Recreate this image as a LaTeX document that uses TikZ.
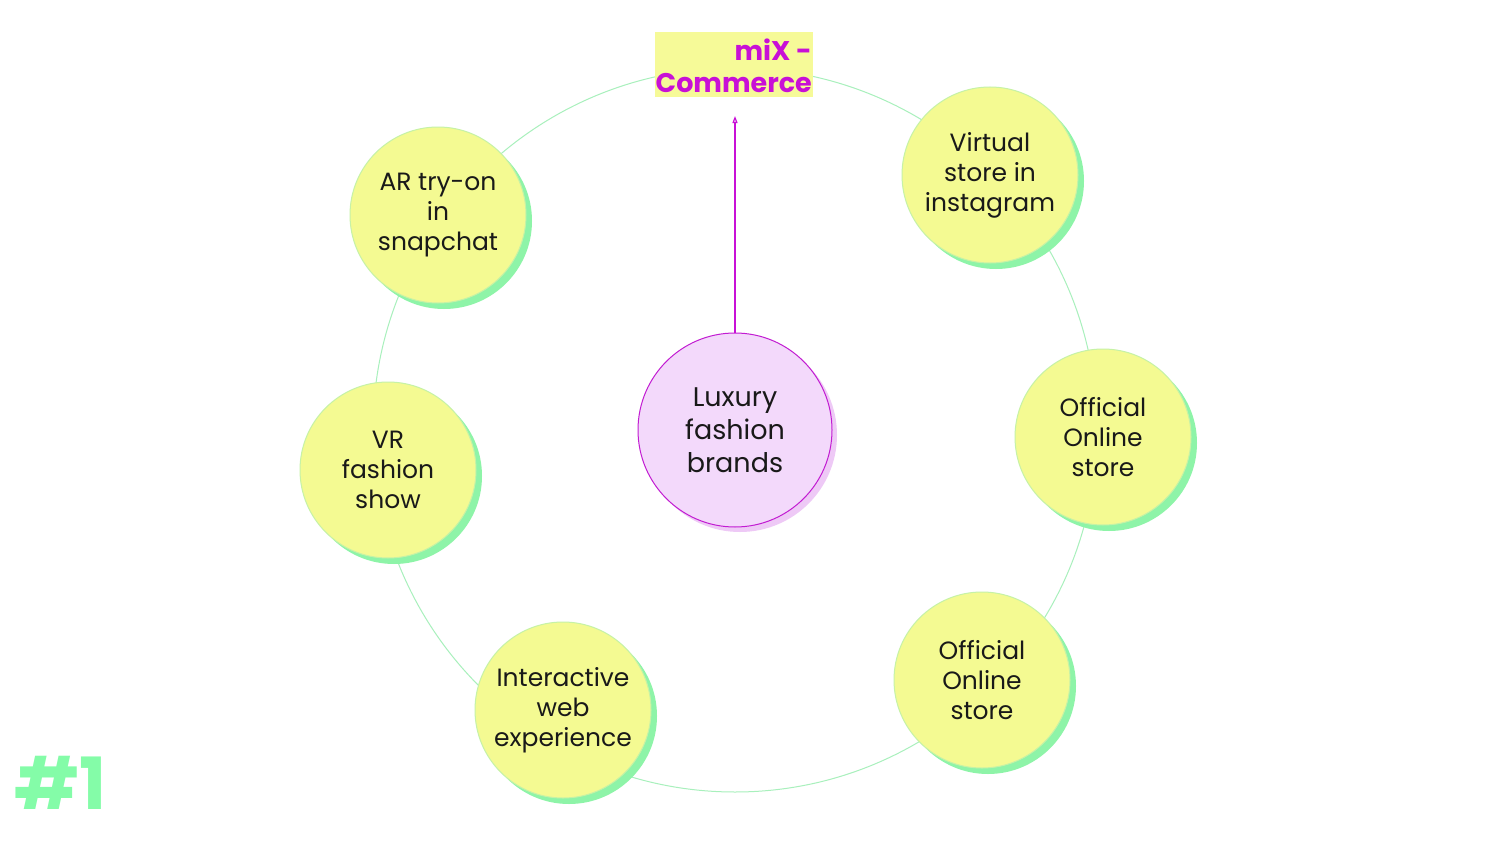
\documentclass[tikz,border=0pt]{standalone}
\usepackage{fontspec}
\setmainfont{Poppins}
\usetikzlibrary{arrows.meta}
\definecolor{sat}{HTML}{F4FA92}
\definecolor{satline}{HTML}{C6F2A6}
\definecolor{satshadow}{HTML}{8EF4A8}
\definecolor{ringc}{HTML}{A8F0BC}
\definecolor{cfill}{HTML}{F3D9FB}
\definecolor{cline}{HTML}{C21CD2}
\definecolor{cshadow}{HTML}{EEC9F6}
\definecolor{mag}{HTML}{C810D6}
\definecolor{lbl}{HTML}{F6FA98}
\definecolor{hashc}{HTML}{84FCA8}
\begin{document}
\begin{tikzpicture}[x=1pt,y=-1pt,
  sattext/.style={align=center,font=\fontsize{25}{30}\selectfont,text=black!90},
  satshade/.style={circle,fill=satshadow,minimum size=176pt,inner sep=0pt},
  satnode/.style={circle,fill=sat,draw=satline,line width=1pt,minimum size=176pt,inner sep=0pt,sattext}]
\useasboundingbox (0,0) rectangle (1500,843);
\fill[white] (0,0) rectangle (1500,843);
% ring
\draw[ringc,line width=1pt] (735,430) circle[radius=362];
% label
\node[fill=lbl,minimum width=158pt,minimum height=65pt,inner sep=0pt] (lab) at (734,65) {};
\node[anchor=east,text=mag,font=\bfseries\fontsize{27}{32}\selectfont,align=right,inner sep=0pt] (labt) at (812,66) {miX -\\Commerce};
% satellites with shadows
\foreach \n/\x/\y in {ar/438/215, vs/990/175, of1/1103/437, vr/388/470, iw/563/710, of2/982/680}{
  \node[satshade] at (\x+6,\y+6) {};
}
\node[satnode] (ar) at (438,215) {AR try-on\\in\\snapchat};
\node[satnode] (vs) at (990,175) {Virtual\\store in\\instagram};
\node[satnode] (of1) at (1103,437) {Official\\Online\\store};
\node[satnode] (vr) at (388,470) {VR\\fashion\\show};
\node[satnode] (iw) at (563,710) {Interactive\\web\\experience};
\node[satnode] (of2) at (982,680) {Official\\Online\\store};
% center
\node[circle,fill=cshadow,minimum size=194pt,inner sep=0pt] at (740,435) {};
\node[circle,fill=cfill,draw=cline,line width=1pt,minimum size=194pt,inner sep=0pt,align=center,font=\fontsize{27}{33}\selectfont,text=black!90] (c) at (735,430) {Luxury\\fashion\\brands};
\coordinate (tip) at (735,116);
\draw[mag,line width=1.2pt,-{Triangle[open,length=7pt,width=5pt]}] (c.north) -- (tip);
% #1
\node[anchor=south west,text=hashc,font=\bfseries\fontsize{72}{72}\selectfont,inner sep=0pt] (hash) at (14,810) {\#1};
\end{tikzpicture}
\end{document}
